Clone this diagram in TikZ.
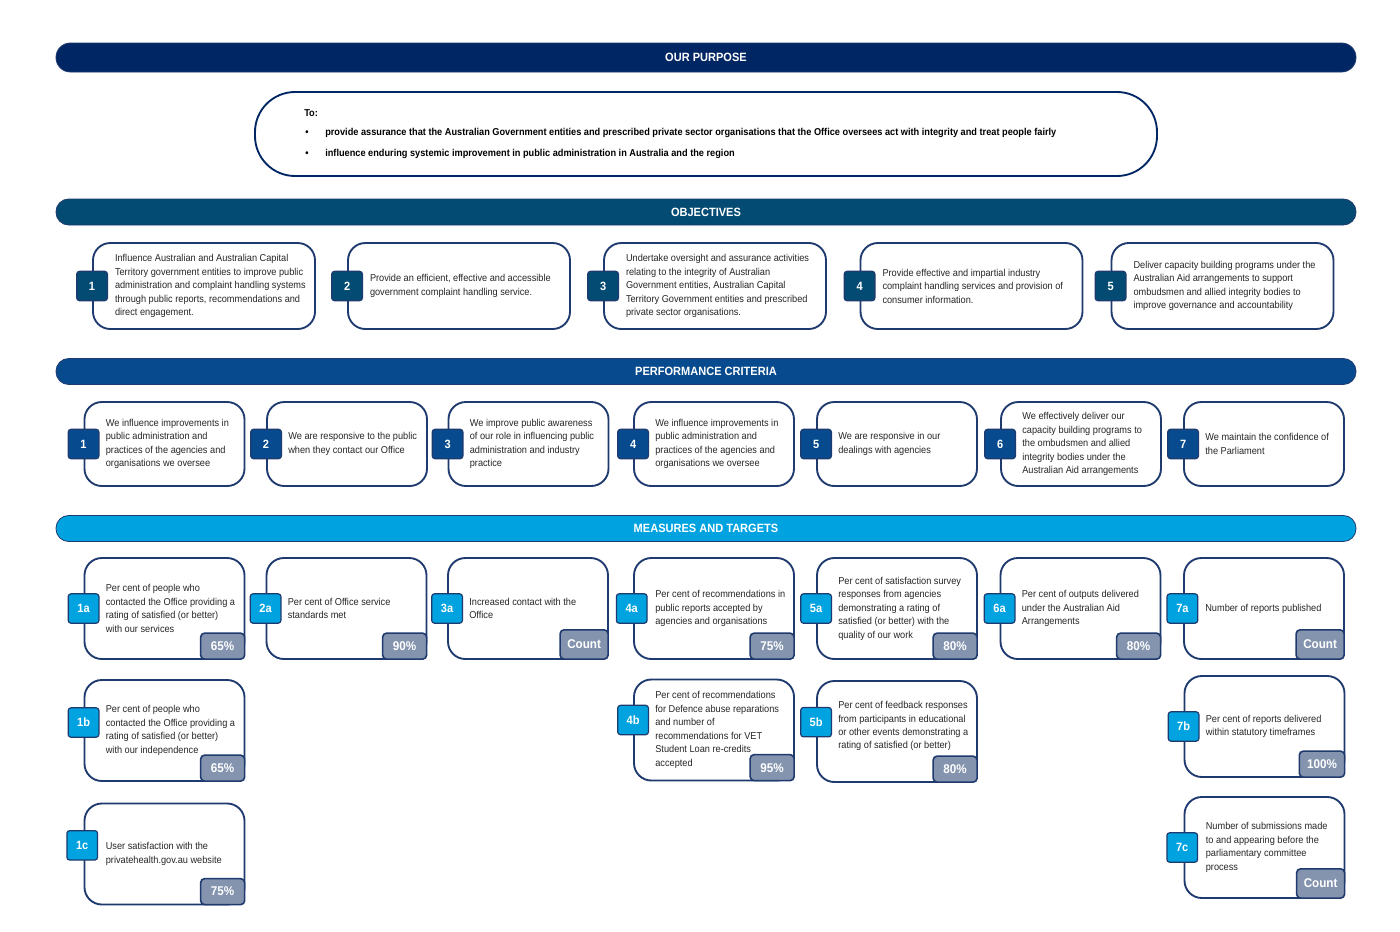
\documentclass[tikz,border=0pt]{standalone}
\usepackage{fontspec}
\setmainfont{Liberation Sans}[FakeStretch=0.92]
\definecolor{navy}{HTML}{002664}
\definecolor{objcol}{HTML}{044B73}
\definecolor{pccol}{HTML}{074B8E}
\definecolor{mtcol}{HTML}{00A3E0}
\definecolor{bordercol}{HTML}{1E3A6E}
\definecolor{tabcol}{HTML}{8494AE}
\definecolor{txtcol}{HTML}{262626}
\tikzset{
  banner/.style={fill=#1, draw=bordercol, line width=0.6pt, rounded corners=9.5pt, minimum width=975pt, minimum height=19.5pt, text=white, font=\bfseries\fontsize{9}{10}\selectfont, inner sep=0pt},
  card/.style={draw=bordercol, fill=white, line width=1.4pt, rounded corners=13pt, inner sep=0pt},
  objcard/.style={card, minimum width=166.5pt, minimum height=64.5pt},
  pccard/.style={card, minimum width=120pt, minimum height=63pt},
  mtcard/.style={card, minimum width=120pt, minimum height=75.75pt},
  numsq/.style={fill=#1, draw=bordercol, line width=0.9pt, rounded corners=2pt, minimum width=23pt, minimum height=22pt, inner sep=0pt, text=white, font=\bfseries\fontsize{9}{10}\selectfont},
  body/.style={anchor=west, align=left, inner sep=0pt, text=txtcol, font=\fontsize{7.5}{10.1}\selectfont},
  tgt/.style={draw=bordercol, fill=tabcol, line width=1.2pt, rounded corners=3pt, anchor=south east, minimum height=19.5pt, minimum width=33pt, inner sep=0pt, text=white, font=\bfseries\fontsize{9.5}{10}\selectfont},
  ptxt/.style={anchor=west, inner sep=0pt, text=black, font=\bfseries\fontsize{7.5}{9}\selectfont}
}
\begin{document}
\begin{tikzpicture}[x=0.75pt,y=-0.75pt]
\path[use as bounding box, fill=white] (0,0) rectangle (1400,932);

% ---------- OUR PURPOSE ----------
\node[banner=navy, minimum height=21.75pt, rounded corners=10.8pt] (bp) at (706,57.5) {OUR PURPOSE};
\node[draw=navy, line width=1.4pt, rounded corners=30pt, minimum width=676.5pt, minimum height=63pt, inner sep=0pt] (pbox) at (706,134) {};
\node[ptxt] (pto) at (304,113) {To:};
\node[ptxt] (pb1) at (305,133) {\textbullet};
\node[ptxt] (pl1) at (325,133) {provide assurance that the Australian Government entities and prescribed private sector organisations that the Office oversees act with integrity and treat people fairly};
\node[ptxt] (pb2) at (305,154) {\textbullet};
\node[ptxt] (pl2) at (325,154) {influence enduring systemic improvement in public administration in Australia and the region};

% ---------- OBJECTIVES ----------
\node[banner=objcol] (bo) at (706,212) {OBJECTIVES};

\node[objcard] (o1) at (204,286) {};
\node[objcard] (o2) at (459,286) {};
\node[objcard] (o3) at (715,286) {};
\node[objcard] (o4) at (971.5,286) {};
\node[objcard] (o5) at (1222.5,286) {};
\foreach \i in {1,...,5}{
  \node[numsq=objcol] (o\i n) at (o\i.west) {\i};
}
\node[body] (o1t) at ([xshift=17pt]o1.west) {Influence Australian and Australian Capital\\Territory government entities to improve public\\administration and complaint handling systems\\through public reports, recommendations and\\direct engagement.};
\node[body] (o2t) at ([xshift=17pt]o2.west) {Provide an efficient, effective and accessible\\government complaint handling service.};
\node[body] (o3t) at ([xshift=17pt]o3.west) {Undertake oversight and assurance activities\\relating to the integrity of Australian\\Government entities, Australian Capital\\Territory Government entities and prescribed\\private sector organisations.};
\node[body] (o4t) at ([xshift=17pt]o4.west) {Provide effective and impartial industry\\complaint handling services and provision of\\consumer information.};
\node[body] (o5t) at ([xshift=17pt]o5.west) {Deliver capacity building programs under the\\Australian Aid arrangements to support\\ombudsmen and allied integrity bodies to\\improve governance and accountability};

% ---------- PERFORMANCE CRITERIA ----------
\node[banner=pccol] (bc) at (706,371.5) {PERFORMANCE CRITERIA};

\node[pccard] (c1) at (164.5,444) {};
\node[pccard] (c2) at (347,444) {};
\node[pccard] (c3) at (528.5,444) {};
\node[pccard] (c4) at (714,444) {};
\node[pccard] (c5) at (897,444) {};
\node[pccard] (c6) at (1081,444) {};
\node[pccard] (c7) at (1264,444) {};
\foreach \i in {1,...,7}{
  \node[numsq=pccol] (c\i n) at (c\i.west) {\i};
}
\node[body] (c1t) at ([xshift=16.5pt]c1.west) {We influence improvements in\\public administration and\\practices of the agencies and\\organisations we oversee};
\node[body] (c2t) at ([xshift=16.5pt]c2.west) {We are responsive to the public\\when they contact our Office};
\node[body] (c3t) at ([xshift=16.5pt]c3.west) {We improve public awareness\\of our role in influencing public\\administration and industry\\practice};
\node[body] (c4t) at ([xshift=16.5pt]c4.west) {We influence improvements in\\public administration and\\practices of the agencies and\\organisations we oversee};
\node[body] (c5t) at ([xshift=16.5pt]c5.west) {We are responsive in our\\dealings with agencies};
\node[body] (c6t) at ([xshift=16.5pt]c6.west) {We effectively deliver our\\capacity building programs to\\the ombudsmen and allied\\integrity bodies under the\\Australian Aid arrangements};
\node[body] (c7t) at ([xshift=16.5pt]c7.west) {We maintain the confidence of\\the Parliament};

% ---------- MEASURES AND TARGETS ----------
\node[banner=mtcol] (bm) at (706,528.5) {MEASURES AND TARGETS};

% row 1
\node[mtcard] (m1a) at (164.5,608.5) {};
\node[mtcard] (m2a) at (346.5,608.5) {};
\node[mtcard] (m3a) at (528,608.5) {};
\node[mtcard] (m4a) at (714,608.5) {};
\node[mtcard] (m5a) at (897,608.5) {};
\node[mtcard] (m6a) at (1080.5,608.5) {};
\node[mtcard] (m7a) at (1264,608.5) {};
% row 2
\node[mtcard] (m1b) at (164.5,730.5) {};
\node[mtcard] (m4b) at (714,730) {};
\node[mtcard] (m5b) at (897,731.5) {};
\node[mtcard] (m7b) at (1264.5,726.5) {};
% row 3
\node[mtcard] (m1c) at (164.5,854) {};
\node[mtcard] (m7c) at (1264.5,847.5) {};

% label squares
\node[numsq=mtcol] (s1a) at (m1a.west) {1a};
\node[numsq=mtcol] (s2a) at (m2a.west) {2a};
\node[numsq=mtcol] (s3a) at (m3a.west) {3a};
\node[numsq=mtcol] (s4a) at ([xshift=-1pt]m4a.west) {4a};
\node[numsq=mtcol] (s5a) at (m5a.west) {5a};
\node[numsq=mtcol] (s6a) at (m6a.west) {6a};
\node[numsq=mtcol] (s7a) at ([xshift=-0.5pt]m7a.west) {7a};
\node[numsq=mtcol] (s1b) at ([yshift=6pt]m1b.west) {1b};
\node[numsq=mtcol] (s4b) at ([yshift=7.5pt]m4b.west) {4b};
\node[numsq=mtcol] (s5b) at ([yshift=7pt]m5b.west) {5b};
\node[numsq=mtcol] (s7b) at (m7b.west) {7b};
\node[numsq=mtcol] (s1c) at ([xshift=-1pt,yshift=6.5pt]m1c.west) {1c};
\node[numsq=mtcol] (s7c) at ([xshift=-1pt]m7c.west) {7c};

% texts
\node[body] (t1a) at ([xshift=16.5pt]m1a.west) {Per cent of people who\\contacted the Office providing a\\rating of satisfied (or better)\\with our services};
\node[body] (t2a) at ([xshift=16.5pt]m2a.west) {Per cent of Office service\\standards met};
\node[body] (t3a) at ([xshift=16.5pt]m3a.west) {Increased contact with the\\Office};
\node[body] (t4a) at ([xshift=16.5pt]m4a.west) {Per cent of recommendations in\\public reports accepted by\\agencies and organisations};
\node[body] (t5a) at ([xshift=16.5pt]m5a.west) {Per cent of satisfaction survey\\responses from agencies\\demonstrating a rating of\\satisfied (or better) with the\\quality of our work};
\node[body] (t6a) at ([xshift=16.5pt]m6a.west) {Per cent of outputs delivered\\under the Australian Aid\\Arrangements};
\node[body] (t7a) at ([xshift=16.5pt]m7a.west) {Number of reports published};
\node[body] (t1b) at ([xshift=16.5pt]m1b.west) {Per cent of people who\\contacted the Office providing a\\rating of satisfied (or better)\\with our independence};
\node[body] (t4b) at ([xshift=16.5pt]m4b.west) {Per cent of recommendations\\for Defence abuse reparations\\and number of\\recommendations for VET\\Student Loan re-credits\\accepted};
\node[body] (t5b) at ([xshift=16.5pt,yshift=4pt]m5b.west) {Per cent of feedback responses\\from participants in educational\\or other events demonstrating a\\rating of satisfied (or better)};
\node[body] (t7b) at ([xshift=16.5pt]m7b.west) {Per cent of reports delivered\\within statutory timeframes};
\node[body] (t1c) at ([xshift=16.5pt]m1c.west) {User satisfaction with the\\privatehealth.gov.au website};
\node[body] (t7c) at ([xshift=16.5pt]m7c.west) {Number of submissions made\\to and appearing before the\\parliamentary committee\\process};

% targets
\node[tgt] (g1a) at (m1a.south east) {65\%};
\node[tgt] (g2a) at (m2a.south east) {90\%};
\node[tgt, minimum width=36pt, minimum height=22pt] (g3a) at (m3a.south east) {Count};
\node[tgt] (g4a) at (m4a.south east) {75\%};
\node[tgt] (g5a) at (m5a.south east) {80\%};
\node[tgt] (g6a) at (m6a.south east) {80\%};
\node[tgt, minimum width=36pt, minimum height=22pt] (g7a) at (m7a.south east) {Count};
\node[tgt] (g1b) at (m1b.south east) {65\%};
\node[tgt] (g4b) at (m4b.south east) {95\%};
\node[tgt] (g5b) at (m5b.south east) {80\%};
\node[tgt, minimum width=34pt] (g7b) at (m7b.south east) {100\%};
\node[tgt] (g1c) at (m1c.south east) {75\%};
\node[tgt, minimum width=36pt, minimum height=22pt] (g7c) at (m7c.south east) {Count};
\end{tikzpicture}
\end{document}
